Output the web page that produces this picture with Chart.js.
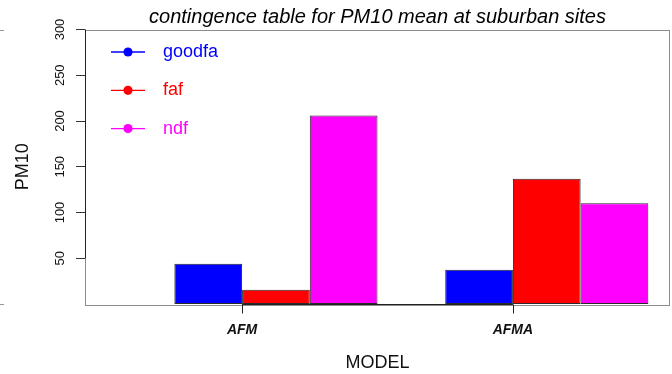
<!DOCTYPE html>
<html>
<head>
<meta charset="utf-8">
<script src="https://cdn.jsdelivr.net/npm/chart.js@4.4.1/dist/chart.umd.min.js"></script>
<style>
  html, body { margin: 0; padding: 0; background: #ffffff; }
  #wrap { width: 672px; height: 374px; }
</style>
</head>
<body>
<div id="wrap"><canvas id="chart" width="672" height="374"></canvas></div>
<script>
// PM10 means at suburban sites, by model and forecast class
const models = ['AFM', 'AFMA'];
const seriesNames = ['goodfa', 'faf', 'ndf'];
const goodfa = [44, 37.5];
const faf = [15.5, 137];
const ndf = [206, 110];
const yTickValues = [50, 100, 150, 200, 250, 300];

const seriesValues = [goodfa, faf, ndf];
const seriesColors = ['#0000ff', '#ff0000', '#ff00ff'];

// Each model occupies 4 units on the x axis: one blank unit, then three bars.
const groupWidth = 4;
const barCenter = g => g * groupWidth + 2.5;
const labelPos = g => g * groupWidth + 2;
const xMin = -0.32, xMax = models.length * groupWidth + 0.32;

const FONT = "'Liberation Sans', Arial, Helvetica, sans-serif";

const datasets = seriesNames.map((name, s) => ({
  label: name,
  data: models.map((m, g) => ({ x: barCenter(g), y: seriesValues[s][g] })),
  backgroundColor: seriesColors[s],
  borderColor: '#2a2a2a',
  borderWidth: 1,
  borderSkipped: false,
  categoryPercentage: 0.75,
  barPercentage: 1.0
}));

const framePlugin = {
  id: 'frame',
  afterDraw(chart) {
    const { ctx, chartArea: a, scales: { x, y } } = chart;
    ctx.save();
    // plot box
    ctx.strokeStyle = '#8c8c8c';
    ctx.lineWidth = 1;
    ctx.strokeRect(Math.round(a.left) + 0.5, Math.round(a.top) + 0.5,
                   Math.round(a.right - a.left) - 1, Math.round(a.bottom - a.top));

    // y axis line over the tick range
    ctx.strokeStyle = '#222222';
    ctx.lineWidth = 1;
    const xl = Math.round(a.left) + 0.5;
    ctx.beginPath();
    ctx.moveTo(xl, y.getPixelForValue(yTickValues[0]));
    ctx.lineTo(xl, y.getPixelForValue(yTickValues[yTickValues.length - 1]));
    ctx.stroke();

    // x axis line between the labelled positions, with tick marks
    const yb = Math.round(a.bottom) + 0.5;
    const xFirst = x.getPixelForValue(labelPos(0));
    const xLast = x.getPixelForValue(labelPos(models.length - 1));
    ctx.beginPath();
    ctx.moveTo(xFirst, yb);
    ctx.lineTo(xLast, yb);
    ctx.stroke();
    models.forEach((m, g) => {
      const px = Math.round(x.getPixelForValue(labelPos(g))) + 0.5;
      ctx.beginPath();
      ctx.moveTo(px, yb);
      ctx.lineTo(px, yb + 9);
      ctx.stroke();
    });

    // short marks at the left edge
    ctx.strokeStyle = '#999999';
    ctx.beginPath();
    [y.min, y.max].forEach(v => {
      const py = Math.round(y.getPixelForValue(v)) + 0.5;
      ctx.moveTo(0, py); ctx.lineTo(4, py);
    });
    ctx.stroke();

    // rotated y tick labels
    ctx.fillStyle = '#111111';
    ctx.font = `13px ${FONT}`;
    ctx.textAlign = 'center';
    ctx.textBaseline = 'middle';
    yTickValues.forEach(v => {
      ctx.save();
      ctx.translate(60, y.getPixelForValue(v));
      ctx.rotate(-Math.PI / 2);
      ctx.fillText(String(v), 0, 0);
      ctx.restore();
    });

    // legend: line with a dot, coloured label
    ctx.font = `18px ${FONT}`;
    ctx.textAlign = 'left';
    chart.data.datasets.forEach((ds, i) => {
      const cy = 52 + i * 38.3;
      ctx.strokeStyle = ds.backgroundColor;
      ctx.fillStyle = ds.backgroundColor;
      ctx.lineWidth = 1.3;
      ctx.beginPath();
      ctx.moveTo(111, cy); ctx.lineTo(145, cy);
      ctx.stroke();
      ctx.beginPath();
      ctx.arc(128, cy, 4.6, 0, Math.PI * 2);
      ctx.fill();
      ctx.fillText(ds.label, 163, cy);
    });
    ctx.restore();
  }
};

new Chart(document.getElementById('chart'), {
  type: 'bar',
  data: { datasets },
  options: {
    responsive: false,
    animation: false,
    devicePixelRatio: 1,
    layout: { padding: { left: 0, right: 2, top: 0, bottom: 0 } },
    plugins: {
      legend: { display: false },
      tooltip: { enabled: false },
      title: {
        display: true,
        fullSize: false,
        text: 'contingence table for PM10 mean at suburban sites',
        color: '#000000',
        font: { family: FONT, size: 20, style: 'italic', weight: 'normal' },
        padding: { top: 5.5, bottom: 0 }
      }
    },
    scales: {
      x: {
        type: 'linear',
        min: xMin,
        max: xMax,
        offset: false,
        afterBuildTicks: s => { s.ticks = models.map((m, g) => ({ value: labelPos(g) })); },
        afterFit: s => { s.height = 70; },
        ticks: {
          autoSkip: false,
          maxRotation: 0,
          padding: 18,
          color: '#111111',
          font: { family: FONT, size: 14, style: 'italic', weight: 'bold' },
          callback: (v, i) => models[i]
        },
        grid: { display: false, drawTicks: false },
        border: { display: false },
        title: {
          display: true,
          text: 'MODEL',
          color: '#111111',
          font: { family: FONT, size: 18 },
          padding: { top: 0, bottom: 0 }
        }
      },
      y: {
        min: 0,
        max: 300,
        afterBuildTicks: s => { s.ticks = yTickValues.map(v => ({ value: v })); },
        afterFit: s => { s.width = 85; },
        ticks: { display: false },
        grid: { drawOnChartArea: false, drawTicks: true, tickLength: 9, color: '#333333' },
        border: { display: false },
        title: {
          display: true,
          text: 'PM10',
          color: '#111111',
          font: { family: FONT, size: 18 },
          padding: { top: 12, bottom: 0 }
        }
      }
    }
  },
  plugins: [framePlugin]
});
</script>
</body>
</html>
